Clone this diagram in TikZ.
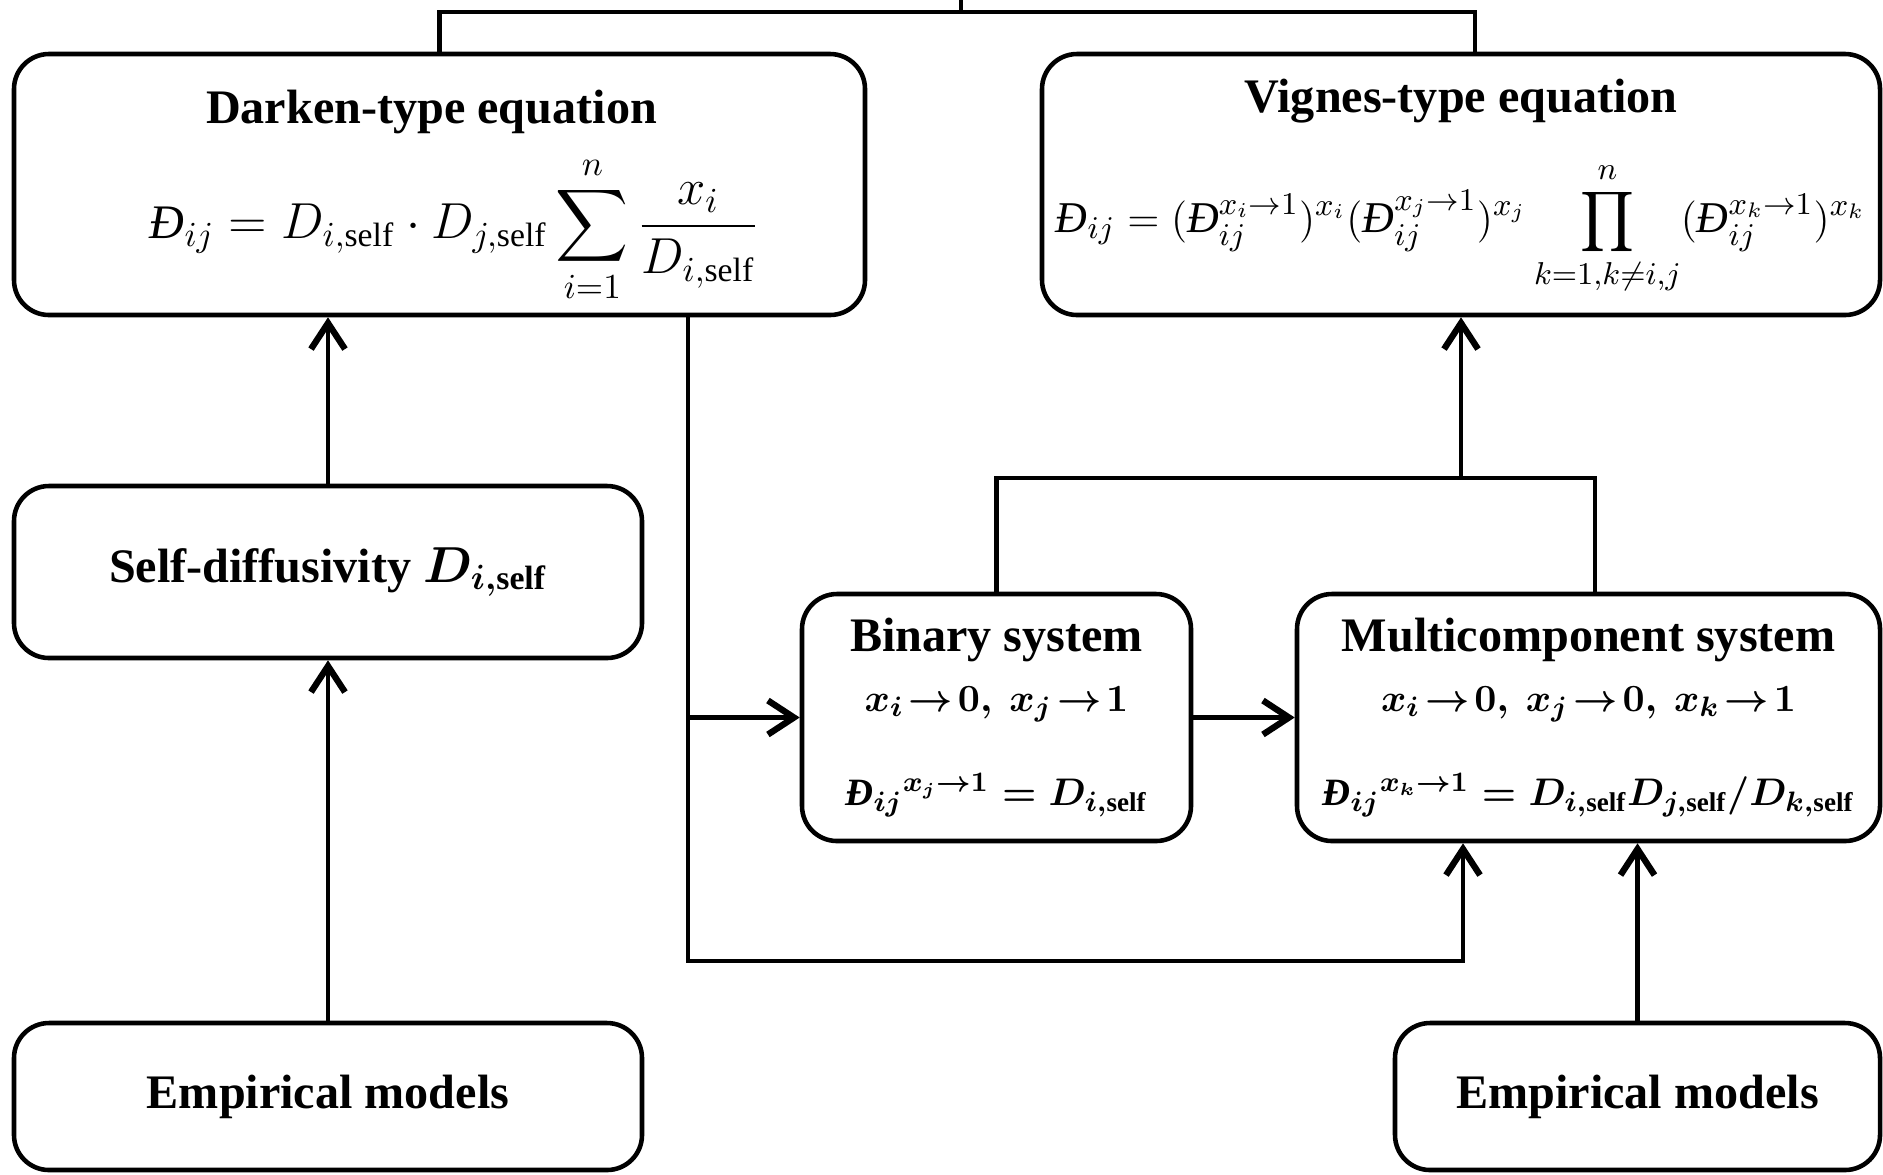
\documentclass[tikz,border=0pt]{standalone}
\usepackage{amsmath}
\usepackage{fontspec}
\setmainfont{Liberation Serif}
\usetikzlibrary{arrows.meta,positioning,calc}
\newcommand{\Dbar}{\text{\itshape Đ}}
\newcommand{\DbarB}{\text{\bfseries\itshape Đ}}
\newcommand{\slf}{\text{self}}
\newcommand{\slfB}{\textbf{self}}
\newcommand{\eqsize}{\fontsize{11pt}{13pt}\selectfont}

\begin{document}
\begin{tikzpicture}
[font=\fontsize{13.7pt}{16pt}\selectfont,
block/.style={draw=black,line width=1.3pt,rounded corners=.35cm,align=center,inner sep=2pt},
heading/.style={font=\fontsize{13.7pt}{16pt}\selectfont\bfseries,inner sep=0pt},
edge/.style={black,line width=1.2pt},
edgearr/.style={edge,-{Straight Barb[length=2.6mm,width=3.4mm,line width=1.8pt]}}]
\useasboundingbox (0,0) rectangle (18.83,-11.74);
%%%%%%%%%%
%% equations
\node (darken) [block,minimum width=8.51cm,minimum height=2.61cm] at (4.395,-1.845) {};
\node (darkentitle) [heading] at ($(darken.north)+(-.08,-.6)$) {Darken-type equation};
\node (darkeneq) at ($(darken.center)+(.15,-.45)$)
{$\displaystyle \Dbar_{ij}=D_{i,\slf}\cdot D_{j,\slf}\sum_{i=1}^{n}\frac{x_i}{D_{i,\slf}}$};
\node (vignes) [block,minimum width=8.38cm,minimum height=2.61cm] at (14.61,-1.845) {};
\node (vignestitle) [heading] at ($(vignes.north)+(0,-.49)$) {Vignes-type equation};
\node (vigneseq) [font=\fontsize{12.5pt}{15pt}\selectfont] at ($(vignes.center)+(0,-.44)$)
{$\displaystyle \Dbar_{ij}=(\Dbar_{ij}^{x_i\to1})^{x_i}(\Dbar_{ij}^{x_j\to1})^{x_j}
\prod_{k=1,k\neq i,j}^{n}(\Dbar_{ij}^{x_k\to1})^{x_k}$};
%%
\coordinate (top) at (9.61,0);
\coordinate (join) at (9.61,-.12);
\draw[edge] (top) -- (join);
\draw[edge] (darken.north) |- (join) -| ($(vignes.north)+(.14,0)$);
%%
%% inputs
\node (selfd) [block,minimum width=6.28cm,minimum height=1.72cm] at (3.28,-5.72)
{\textbf{Self-diffusivity} $\boldsymbol{D_{i,\slfB}}$};
\node (emp1) [block,minimum width=6.28cm,minimum height=1.47cm] at (3.28,-10.965)
{\textbf{Empirical models}};
\node (emp2) [block,minimum width=4.85cm,minimum height=1.47cm] at (16.375,-10.965)
{\textbf{Empirical models}};
%%
%% limits
\node (binary) [block,minimum width=3.89cm,minimum height=2.47cm] at (9.965,-7.175)
{\textbf{Binary system}\\[1pt]
{\eqsize$\boldsymbol{x_i\!\to\!0,\ x_j\!\to\!1}$}\\[11pt]
{\eqsize$\boldsymbol{\DbarB_{ij}{}^{x_j\to1}=D_{i,\slfB}}$}};
\node (multi) [block,minimum width=5.83cm,minimum height=2.47cm] at (15.885,-7.175)
{\textbf{Multicomponent system}\\[1pt]
{\eqsize$\boldsymbol{x_i\!\to\!0,\ x_j\!\to\!0,\ x_k\!\to\!1}$}\\[11pt]
{\eqsize$\boldsymbol{\DbarB_{ij}{}^{x_k\to1}=D_{i,\slfB}D_{j,\slfB}/D_{k,\slfB}}$}};
%%
\draw[edgearr] (emp1) -- (selfd);
\draw[edgearr] (selfd) -- (selfd |- darken.south);
\coordinate (split) at (6.88,-7.175);
\coordinate (low) at (6.88,-9.61);
\draw[edgearr] (split |- darken.south) -- (low) -| ($(multi.south)+(-1.255,0)$);
\draw[edgearr] (split) -- (binary.west);
\draw[edgearr] (binary) -- (multi);
\draw[edgearr] (emp2) -- (emp2 |- multi.south);
\coordinate (merge) at (14.61,-4.78);
\draw[edge] (binary.north) |- (merge) -| ($(multi.north)+(.065,0)$);
\draw[edgearr] (merge) -- (vignes.south);
\end{tikzpicture}
\end{document}
